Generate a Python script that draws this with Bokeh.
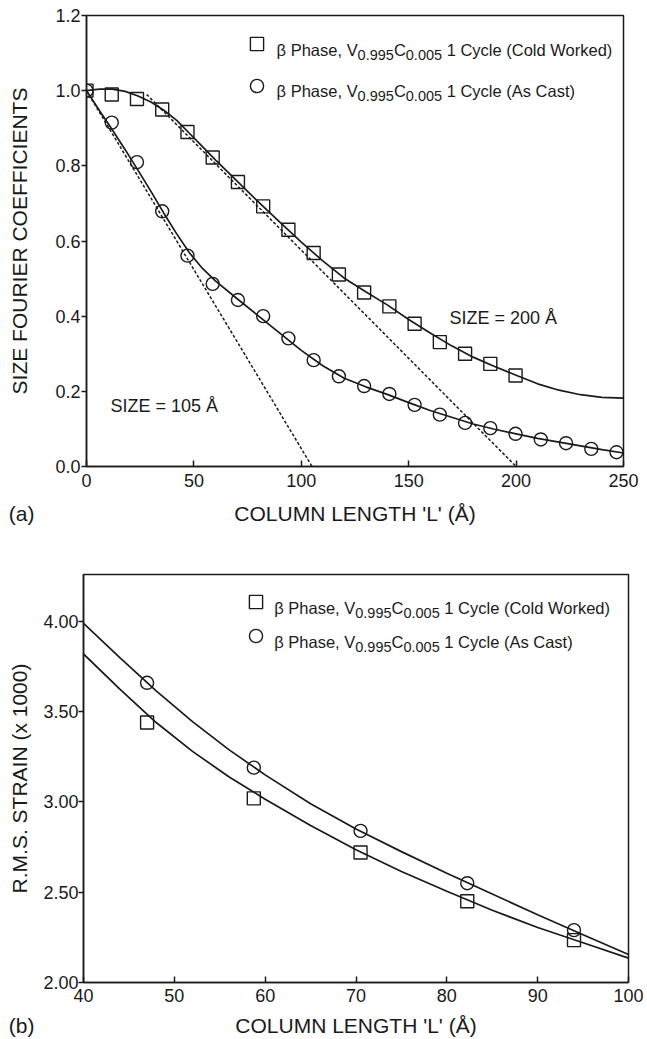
from bokeh.plotting import figure
from bokeh.layouts import column
from bokeh.models import Legend, LegendItem, Label, FixedTicker, PrintfTickFormatter
from bokeh.embed import file_html
from bokeh.resources import INLINE

FONT = "Liberation Sans"
INK = "#1a1a1a"

# ---------------- (a) size Fourier coefficients ----------------
col_len = [0, 11.75, 23.5, 35.25, 47, 58.75, 70.5, 82.25, 94, 105.75, 117.5,
           129.25, 141, 152.75, 164.5, 176.25, 188, 199.75, 211.5, 223.25,
           235, 246.75]
size_cold = [1.000, 0.990, 0.978, 0.950, 0.890, 0.822, 0.757, 0.692, 0.630,
             0.568, 0.511, 0.463, 0.426, 0.380, 0.331, 0.300, 0.273, 0.242]
size_cast = [1.000, 0.915, 0.810, 0.679, 0.561, 0.486, 0.443, 0.400, 0.341,
             0.283, 0.240, 0.214, 0.193, 0.164, 0.138, 0.116, 0.102, 0.087,
             0.072, 0.062, 0.047, 0.038]

fit_len = [0, 6, 12, 18, 24, 30, 36, 42, 48, 54, 60, 70, 80, 90, 100, 110,
           120, 130, 140, 150, 160, 170, 180, 190, 200, 210, 220, 230, 240, 250]
fit_cold = [1.000, 1.004, 1.004, 0.998, 0.986, 0.970, 0.948, 0.921, 0.886,
            0.851, 0.816, 0.760, 0.704, 0.650, 0.597, 0.547, 0.501, 0.465,
            0.430, 0.391, 0.355, 0.321, 0.291, 0.266, 0.243, 0.220, 0.203,
            0.191, 0.184, 0.182]
fit_cast = [1.000, 0.947, 0.896, 0.843, 0.788, 0.732, 0.674, 0.619, 0.568,
            0.527, 0.494, 0.447, 0.401, 0.355, 0.309, 0.268, 0.235, 0.212,
            0.192, 0.170, 0.149, 0.131, 0.113, 0.099, 0.087, 0.075, 0.065,
            0.055, 0.045, 0.036]

# initial-slope tangents: intercepts give the column sizes
tan_cast_len = [0, 105]
tan_cast = [1.0, 0.0]
tan_cold_len = [28, 200]
tan_cold = [0.99, 0.0]

# ---------------- (b) r.m.s. strain ----------------
strain_len = [47, 58.75, 70.5, 82.25, 94]
strain_cold = [3.44, 3.02, 2.72, 2.45, 2.235]
strain_cast = [3.66, 3.19, 2.84, 2.55, 2.29]

strain_fit_len = [40, 44, 48, 52, 56, 60, 65, 70, 75, 80, 85, 90, 95, 100]
strain_fit_cold = [3.82, 3.625, 3.44, 3.28, 3.14, 3.015, 2.87, 2.735, 2.615,
                   2.505, 2.40, 2.305, 2.22, 2.135]
strain_fit_cast = [3.99, 3.80, 3.615, 3.445, 3.29, 3.15, 2.99, 2.85, 2.725,
                   2.605, 2.49, 2.375, 2.265, 2.155]

X_TITLE = "COLUMN LENGTH 'L' (Å)"
PAGE_W = 647

# advance widths (1/1000 em, Arial metrics) used to chain label pieces
ADV = {' ': 278, 'β': 574, 'P': 667, 'h': 556, 'a': 556, 's': 500, 'e': 556,
       ',': 278, 'V': 667, '.': 278, 'C': 722, 'y': 500, 'c': 500, 'l': 222,
       '(': 333, ')': 333, 'o': 556, 'd': 556, 'W': 944, 'r': 333, 'k': 500,
       'A': 667, 't': 278, 'b': 556}
for d in "0123456789":
    ADV[d] = 556


def advance(s, size):
    return sum(ADV[c] for c in s) * size / 1000.0


MAIN, SUB = 16.5, 14.5


def legend_text(p, x, y, tail):
    """Series label with subscripted composition, anchored at a data point."""
    parts = [("β Phase, V", False), ("0.995", True), ("C", False),
             ("0.005", True), (" " + tail, False)]
    base = -0.358 * MAIN
    off = 0.0
    for s, sub in parts:
        size = SUB if sub else MAIN
        lead = len(s) - len(s.lstrip(" "))
        off += advance(" " * lead, size)
        body = s.lstrip(" ")
        p.add_layout(Label(x=x, y=y, x_offset=off,
                           y_offset=(base - 5 if sub else base), text=body,
                           text_font=FONT, text_font_size=f"{size}px",
                           text_color=INK, text_baseline="alphabetic",
                           text_align="left"))
        off += advance(body, size)


def title_strip(tag, height, left, right):
    """Strip under a panel: the panel tag sits in the left border (as a
    horizontal axis label), the x-axis title is centred over the frame."""
    s = figure(width=PAGE_W, height=height, x_range=(0, 1),
               y_range=(0, 1), output_backend="svg",
               toolbar_location=None, x_axis_location=None,
               y_axis_location="left", min_border_left=left,
               min_border_right=right, min_border_top=0, min_border_bottom=0,
               outline_line_color=None, background_fill_color="white",
               border_fill_color="white")
    s.xgrid.visible = False
    s.ygrid.visible = False
    ax = s.yaxis[0]
    ax.ticker = FixedTicker(ticks=[])
    ax.major_tick_out = 0
    ax.major_tick_in = 0
    ax.minor_tick_out = 0
    ax.minor_tick_in = 0
    ax.axis_line_color = None
    ax.axis_label = tag
    ax.axis_label_orientation = "horizontal"
    ax.axis_label_text_font = FONT
    ax.axis_label_text_font_size = "21px"
    ax.axis_label_text_font_style = "normal"
    ax.axis_label_text_color = INK
    # right edge of the tag lands 8px + its width from the page edge
    ax.axis_label_standoff = int(round(left - 8 - advance(tag, 21)))
    s.add_layout(Label(x=0.5, y=0.5, text=X_TITLE, text_font=FONT,
                       text_font_size="21px", text_color=INK,
                       text_baseline="middle", text_align="center"))
    return s


def style(p, xticks, yticks, yfmt):
    p.xaxis.ticker = FixedTicker(ticks=xticks)
    p.yaxis.ticker = FixedTicker(ticks=yticks)
    p.yaxis.formatter = PrintfTickFormatter(format=yfmt)
    p.xgrid.visible = False
    p.ygrid.visible = False
    p.outline_line_color = INK
    p.outline_line_width = 1.5
    p.outline_line_alpha = 1.0
    for ax in p.axis:
        ax.axis_line_color = INK
        ax.axis_line_width = 1.5
        ax.major_tick_line_color = INK
        ax.major_tick_line_width = 1.5
        ax.minor_tick_line_color = None
        ax.major_label_text_font = FONT
        ax.major_label_text_font_size = "18px"
        ax.major_label_text_color = INK
        ax.axis_label_text_font = FONT
        ax.axis_label_text_font_size = "21px"
        ax.axis_label_text_font_style = "normal"
        ax.axis_label_text_color = INK
    p.xaxis.major_tick_in = 6
    p.xaxis.major_tick_out = 0
    p.yaxis.major_tick_in = 0
    p.yaxis.major_tick_out = 5


def markers(p, xs, ys, kind):
    return p.scatter(xs, ys, marker=kind, size=13, fill_alpha=0,
                     line_color=INK, line_width=1.4)


def add_legend(p, r_sq, r_ci, loc, gap):
    leg = Legend(items=[LegendItem(label=" ", renderers=[r_sq]),
                        LegendItem(label=" ", renderers=[r_ci])],
                 location=loc, orientation="vertical", glyph_width=33,
                 glyph_height=33, spacing=gap, padding=0, margin=0,
                 border_line_color=None, background_fill_alpha=0,
                 label_text_font_size="1px", label_width=1, label_height=1,
                 label_standoff=0)
    p.add_layout(leg)


# ---------------- panel (a) ----------------
pa = figure(width=PAGE_W, height=496, x_range=(0, 250), y_range=(0, 1.2),
            output_backend="svg", toolbar_location=None,
            min_border_left=86, min_border_right=24, min_border_top=15,
            min_border_bottom=30, background_fill_color="white",
            border_fill_color="white")
style(pa, [0, 50, 100, 150, 200, 250], [0, 0.2, 0.4, 0.6, 0.8, 1.0, 1.2], "%.1f")
pa.yaxis.axis_label = "SIZE FOURIER COEFFICIENTS"
pa.xaxis.major_label_standoff = 7
pa.yaxis.major_label_standoff = 1
pa.yaxis.axis_label_standoff = 21

pa.line(tan_cast_len, tan_cast, line_color=INK, line_width=1.5, line_dash="3 2")
pa.line(tan_cold_len, tan_cold, line_color=INK, line_width=1.5, line_dash="3 2")
pa.line(fit_len, fit_cold, line_color=INK, line_width=1.7)
pa.line(fit_len, fit_cast, line_color=INK, line_width=1.7)
ra_sq = markers(pa, col_len[:len(size_cold)], size_cold, "square")
ra_ci = markers(pa, col_len, size_cast, "circle")
add_legend(pa, ra_sq, ra_ci, (154, 364), 9)
legend_text(pa, 88.5, 1.125, "1 Cycle (Cold Worked)")
legend_text(pa, 88.5, 1.014, "1 Cycle (As Cast)")

pa.add_layout(Label(x=169, y=0.396, text="SIZE = 200 Å", text_font=FONT,
                    text_font_size="18px", text_color=INK,
                    text_baseline="middle", text_align="left"))
pa.add_layout(Label(x=11.2, y=0.162, text="SIZE = 105 Å", text_font=FONT,
                    text_font_size="18px", text_color=INK,
                    text_baseline="middle", text_align="left"))
strip_a = title_strip("(a)", 34, 86, 24)

# ---------------- panel (b) ----------------
pb = figure(width=PAGE_W, height=480, x_range=(40, 100), y_range=(2.0, 4.26),
            output_backend="svg", toolbar_location=None,
            min_border_left=83, min_border_right=19, min_border_top=44,
            min_border_bottom=28, background_fill_color="white",
            border_fill_color="white")
style(pb, [40, 50, 60, 70, 80, 90, 100], [2.0, 2.5, 3.0, 3.5, 4.0], "%.2f")
pb.yaxis.axis_label = "R.M.S. STRAIN (x 1000)"
pb.xaxis.major_label_standoff = 6
pb.yaxis.major_label_standoff = 0
pb.yaxis.axis_label_standoff = 9

pb.line(strain_fit_len, strain_fit_cold, line_color=INK, line_width=1.7)
pb.line(strain_fit_len, strain_fit_cast, line_color=INK, line_width=1.7)
rb_sq = markers(pb, strain_len, strain_cold, "square")
rb_ci = markers(pb, strain_len, strain_cast, "circle")
add_legend(pb, rb_sq, rb_ci, (155.5, 330), 1)
legend_text(pb, 61.0, 4.107, "1 Cycle (Cold Worked)")
legend_text(pb, 61.0, 3.917, "1 Cycle (As Cast)")
strip_b = title_strip("(b)", 29, 83, 19)

page = column(column(pa, strip_a), column(pb, strip_b))
open("out.html", "w").write(file_html(page, INLINE))
